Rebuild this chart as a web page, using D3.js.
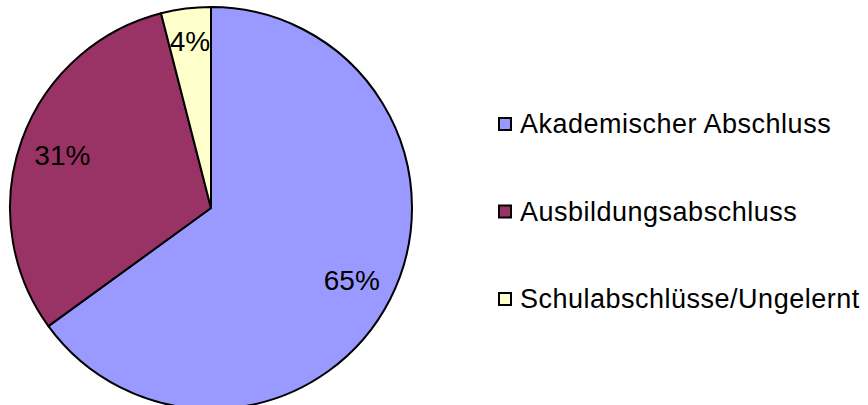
<!DOCTYPE html>
<html>
<head>
<meta charset="utf-8">
<title>Abschlüsse</title>
<style>
  body { margin: 0; background: #fff; }
  text { font-family: "Liberation Sans", Arial, sans-serif; fill: #000; }
</style>
</head>
<body>
<svg width="868" height="405"></svg>
<script src="https://cdn.jsdelivr.net/npm/d3@7"></script>
<script>
// data
const categories = ["Akademischer Abschluss", "Ausbildungsabschluss", "Schulabschlüsse/Ungelernt"]
const values = [65, 31, 4]
const colors = ["#9999FF", "#993366", "#FFFFCC"]

const svg = d3.select("svg")
const cx = 211, cy = 208, R = 201

const pie = d3.pie().sort(null).value(d => d)
const arcs = pie(values)
const arc = d3.arc().innerRadius(0).outerRadius(R)
// small slices get their label pushed a bit further out
const labelR = d => (d.endAngle - d.startAngle) < 0.5 ? 168 : 158

const g = svg.append("g").attr("transform", `translate(${cx},${cy})`)

// slices
g.selectAll("path").data(arcs).enter().append("path")
  .attr("d", arc)
  .attr("fill", (d, i) => colors[i])
  .attr("stroke", "#000")
  .attr("stroke-width", 2)
  .attr("stroke-linejoin", "round")

// percent labels
g.selectAll("text.pct").data(arcs).enter().append("text")
  .attr("class", "pct")
  .attr("transform", d => {
    let r = labelR(d)
    return `translate(${d3.arc().innerRadius(r).outerRadius(r).centroid(d)})`
  })
  .attr("text-anchor", "middle")
  .attr("dy", "0.36em")
  .style("font-size", "28px")
  .text(d => d.data + "%")

// legend
const y = d3.scalePoint().domain(categories).range([124, 299])
const lg = svg.append("g")
const item = lg.selectAll("g").data(categories).enter().append("g")
  .attr("transform", d => `translate(499,${y(d)})`)
item.append("rect")
  .attr("x", 0).attr("y", -6)
  .attr("width", 12).attr("height", 12)
  .attr("fill", (d, i) => colors[i])
  .attr("stroke", "#000").attr("stroke-width", 2)
item.append("text")
  .attr("x", 21).attr("y", 9)
  .style("font-size", "27px")
  .style("letter-spacing", "0.5px")
  .text(d => d)
</script>
</body>
</html>
